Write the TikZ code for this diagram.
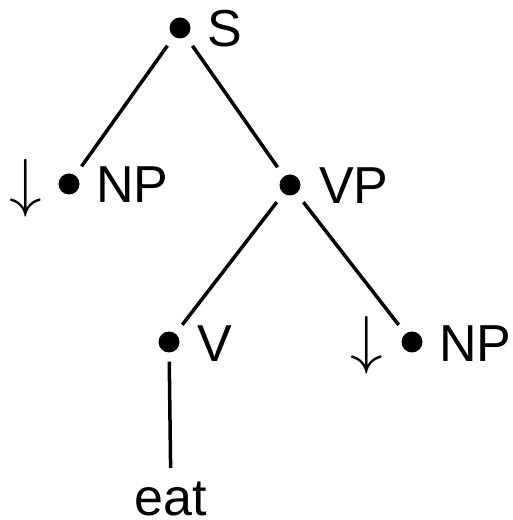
\documentclass[tikz,border=0pt]{standalone}
\usepackage{fontspec}
\setmainfont{Liberation Sans}

\begin{document}
\begin{tikzpicture}[
    x=1pt, y=1pt,
    dot/.style={circle, fill=black, inner sep=0pt, minimum size=21pt},
    lab/.style={inner sep=0pt, font=\fontsize{52}{60}\selectfont},
    subst/.style={inner sep=0pt, scale=6.5},
    edge/.style={line width=3.5pt, shorten <=11pt, shorten >=11pt}
]
\useasboundingbox (0,0) rectangle (513,520);
% tree nodes
\node[dot] (s) at (180,492) {};
\node[dot] (npa) at (69,336) {};
\node[dot] (vp) at (290,335) {};
\node[dot] (v) at (169,178) {};
\node[dot] (npb) at (412,178) {};
% category labels
\node[lab, anchor=base west] (sL) at ([shift={(27,-19)}]s) {S};
\node[lab, anchor=base west] (npaL) at ([shift={(27,-19)}]npa) {NP};
\node[lab, anchor=base west] (vpL) at ([shift={(29,-19)}]vp) {VP};
\node[lab, anchor=base west] (vL) at ([shift={(28,-20)}]v) {V};
\node[lab, anchor=base west] (npbL) at ([shift={(27,-20)}]npb) {NP};
\node[lab, anchor=base] (eat) at (171,5) {eat};
% substitution marks
\node[subst] (npaS) at (26,332) {$\downarrow$};
\node[subst] (npbS) at (367,175) {$\downarrow$};
% branches
\draw[edge] (s) -- (npa);
\draw[edge] (s) -- (vp);
\draw[edge] (vp) -- (v);
\draw[edge] (vp) -- (npb);
\draw[edge, shorten <=9pt, shorten >=13pt] (v) -- (eat);
\end{tikzpicture}
\end{document}
